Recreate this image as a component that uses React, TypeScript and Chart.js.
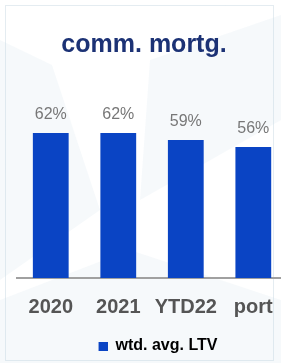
import React, { useEffect, useRef } from "react";
import { Chart, registerables } from "chart.js";

Chart.register(...registerables);

const categories = ["2020", "2021", "YTD22", "port"];
const ltvValues = [62, 62, 59, 56];
const valueLabels = ["62%", "62%", "59%", "56%"];
const seriesName = "wtd. avg. LTV";
const chartTitle = "comm. mortg.";

const W = 290;
const H = 363;
const BAR_COLOR = "#0a44c4";
const FONT = "'Liberation Sans', Arial, sans-serif";

function makeLegendMarker(): HTMLCanvasElement {
  const c = document.createElement("canvas");
  c.width = 37;
  c.height = 9;
  const g = c.getContext("2d");
  if (g) {
    g.fillStyle = BAR_COLOR;
    g.fillRect(28, 0, 9, 9);
  }
  return c;
}

const backdropPlugin = {
  id: "backdrop",
  beforeDraw(chart: any) {
    const ctx = chart.ctx;
    ctx.save();
    ctx.fillStyle = "#ffffff";
    ctx.fillRect(0, 0, chart.width, chart.height);
    ctx.fillStyle = "rgba(214,228,236,0.22)";
    ctx.beginPath();
    ctx.moveTo(0, 40);
    ctx.lineTo(52, 65);
    ctx.lineTo(100, 210);
    ctx.lineTo(0, 280);
    ctx.closePath();
    ctx.fill();
    ctx.beginPath();
    ctx.moveTo(150, 60);
    ctx.lineTo(281, 15);
    ctx.lineTo(281, 120);
    ctx.lineTo(140, 200);
    ctx.closePath();
    ctx.fill();
    ctx.beginPath();
    ctx.moveTo(0, 300);
    ctx.lineTo(130, 250);
    ctx.lineTo(281, 300);
    ctx.lineTo(281, 363);
    ctx.lineTo(0, 363);
    ctx.closePath();
    ctx.fill();
    // dotted frame
    ctx.strokeStyle = "#c9d8e2";
    ctx.lineWidth = 1;
    ctx.setLineDash([1, 1]);
    ctx.beginPath();
    ctx.moveTo(5.5, 5.5);
    ctx.lineTo(273.5, 5.5);
    ctx.lineTo(273.5, 360.5);
    ctx.lineTo(5.5, 360.5);
    ctx.closePath();
    ctx.stroke();
    ctx.restore();
  },
};

const valueLabelPlugin = {
  id: "valueLabels",
  afterDatasetsDraw(chart: any) {
    const ctx = chart.ctx;
    const meta = chart.getDatasetMeta(0);
    ctx.save();
    ctx.font = "16px " + FONT;
    ctx.fillStyle = "#777777";
    ctx.textAlign = "center";
    ctx.textBaseline = "alphabetic";
    meta.data.forEach((bar: any, i: number) => {
      ctx.fillText(valueLabels[i], bar.x, bar.y - 14);
    });
    ctx.restore();
  },
};

export default function App() {
  const ref = useRef<HTMLCanvasElement | null>(null);

  useEffect(() => {
    document.body.style.margin = "0";
    document.body.style.overflow = "hidden";
    const canvas = ref.current;
    if (!canvas) return;
    const marker = makeLegendMarker();
    const chart = new Chart(canvas, {
      type: "bar",
      data: {
        labels: categories,
        datasets: [
          {
            label: seriesName,
            data: ltvValues,
            backgroundColor: BAR_COLOR,
            borderWidth: 0,
            barPercentage: 0.53,
            categoryPercentage: 1,
          },
        ],
      },
      options: {
        animation: false,
        responsive: false,
        devicePixelRatio: 1,
        layout: { padding: { left: 0, right: 2, top: 30, bottom: -1 } },
        plugins: {
          title: {
            display: true,
            text: chartTitle,
            color: "#1c3275",
            font: { family: FONT, size: 25, weight: "bold" },
            padding: { top: 0, bottom: 31 },
          },
          legend: {
            display: true,
            position: "bottom",
            labels: {
              usePointStyle: true,
              pointStyleWidth: 37,
              boxHeight: 9,
              color: "#3a3a3a",
              padding: 2,
              font: { family: FONT, size: 16, weight: "bold" },
              generateLabels: () => [
                {
                  text: seriesName,
                  fillStyle: BAR_COLOR,
                  strokeStyle: BAR_COLOR,
                  lineWidth: 0,
                  hidden: false,
                  pointStyle: marker,
                  datasetIndex: 0,
                },
              ],
            },
          },
          tooltip: { enabled: false },
        },
        scales: {
          x: {
            grid: { display: false, drawTicks: false },
            border: { display: true, color: "#a0a0a0", width: 2 },
            ticks: {
              color: "#555555",
              padding: 17,
              maxRotation: 0,
              autoSkip: false,
              font: { family: FONT, size: 20, weight: "bold" },
            },
          },
          y: {
            display: true,
            min: 0,
            max: 80,
            grid: { display: false, drawTicks: false },
            border: { display: false },
            ticks: { display: false },
            afterFit: (scale: any) => {
              scale.width = 17;
            },
          },
        },
      },
      plugins: [backdropPlugin, valueLabelPlugin],
    });
    return () => chart.destroy();
  }, []);

  return (
    <div style={{ position: "fixed", left: 0, top: 0, width: 281, height: 363, overflow: "hidden" }}>
      <canvas ref={ref} width={W} height={H} style={{ display: "block" }} />
    </div>
  );
}
